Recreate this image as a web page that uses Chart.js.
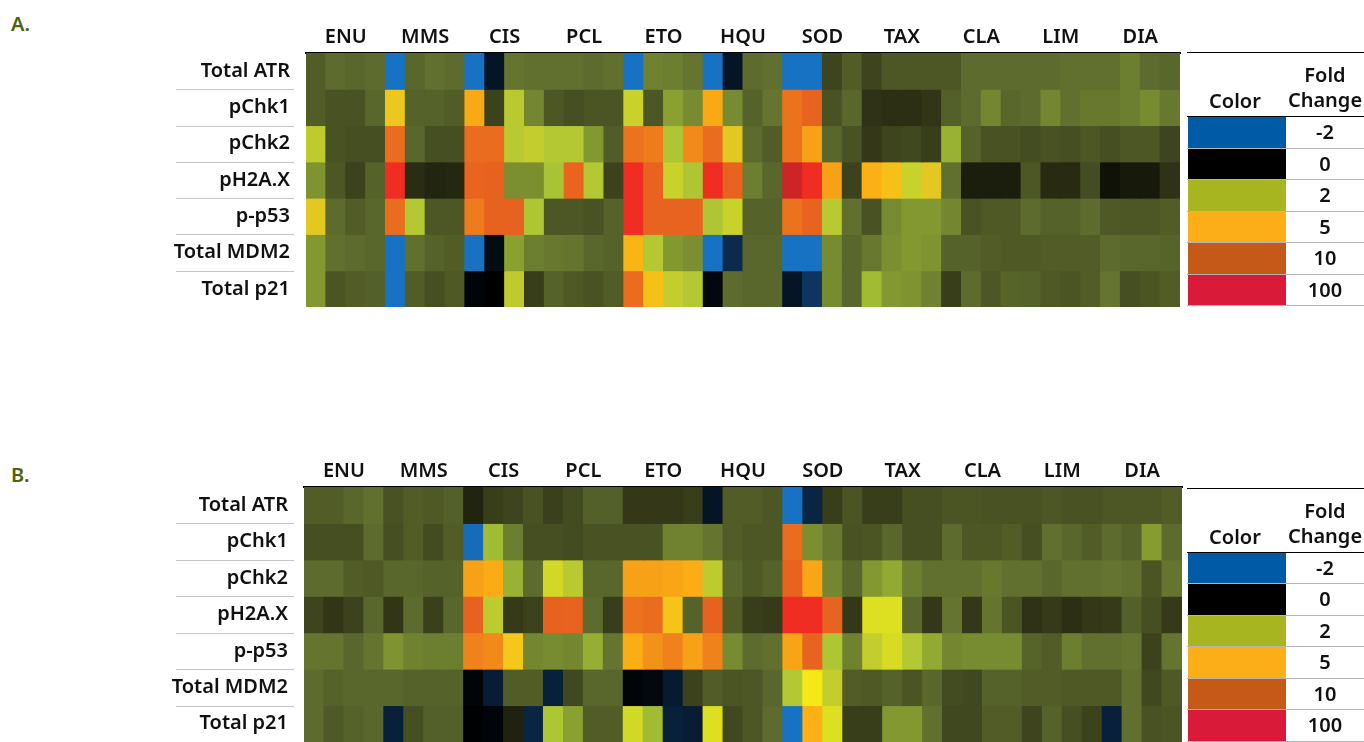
<!DOCTYPE html>
<html>
<head>
<meta charset="utf-8">
<title>Fold change heatmap</title>
<script src="https://cdn.jsdelivr.net/npm/chart.js@4"></script>
<style>
  html, body { margin: 0; padding: 0; background: #fff; overflow: hidden; }
  body { width: 1364px; height: 742px; position: relative; font-family: "Noto Sans", sans-serif; color: #111; }
  canvas { position: absolute; left: 0; }
  .tag { position: absolute; left: 11px; font-size: 20px; font-weight: 600; color: #4f6210; }
  .lg { position: absolute; }
  .lgtext { position: absolute; font-size: 20px; font-weight: 600; line-height: 24px; text-align: center; white-space: nowrap; }
</style>
</head>
<body>
<div class="tag" style="top:10px">A.</div>
<div class="tag" style="top:461px">B.</div>
<canvas id="chartA" width="1186" height="330" style="top:0"></canvas>
<canvas id="chartB" width="1186" height="307" style="top:435px"></canvas>
<script>
const treatments = ["ENU", "MMS", "CIS", "PCL", "ETO", "HQU", "SOD", "TAX", "CLA", "LIM", "DIA"];
const rowNames = ["Total ATR", "pChk1", "pChk2", "pH2A.X", "p-p53", "Total MDM2", "Total p21"];
const foldLabels = ["-2", "0", "2", "5", "10", "100"];
const foldColors = ["#005aa6", "#000000", "#a6b520", "#fbae17", "#c55a18", "#d91a38"];

// panel A, 4 columns per treatment
const aAtr = [.85,1,.95,1, -2,.95,1.05,1, -2,-.4,1.1,1.05, 1.05,1.05,1,1.05, -2,1.25,1.2,1.1, -2,-.4,1,1.05, -2,-2,.62,.85, .62,.8,.8,.8, .8,1,1,1, 1,1,1.05,1.05, 1.05,1.2,1,.95];
const aChk1 = [.85,.75,.75,.95, 3.8,.9,.9,.85, 5.5,.6,2.3,1.3, .8,.72,.78,.78, 2.6,.8,1.6,1.35, 5.5,1.35,.9,1.1, 9,11,.75,.95, .45,.42,.42,.48, .88,1,1.3,.95, 1,1.3,1.05,1.15, 1.15,1.2,1.35,1.15];
const aChk2 = [2.4,.75,.72,.72, 9.5,.95,.72,.72, 9.5,9.5,2.3,2.5, 2.2,2.2,1.5,.85, 9,8.5,2.1,7.5, 9.5,3.6,1,.85, 9,6,.95,.75, .5,.62,.65,.55, 1.8,.9,.75,.75, .7,.75,.72,.8, .72,.8,.8,.62];
const aH2ax = [1.45,.8,.6,.9, 100,.4,.33,.36, 10,14,1.4,1.4, 2,10,2.2,.6, 100,12,2.6,2.1, 100,11,1.2,.95, 150,100,6,.6, 5,4.3,2.6,3.6, 1.05,.27,.27,.27, .8,.38,.38,.7, .15,.22,.22,.45];
const aP53 = [3.6,1,.85,.95, 9.5,2.2,.8,.8, 8.5,14,13,2.1, .8,.8,.75,.9, 100,12,12,12, 2.1,2.6,.9,.9, 9,11,2.3,1.05, .75,1.35,1.5,1.5, 1.3,.75,.82,.82, 1,.9,.9,1, .82,.8,.8,.85];
const aMdm2 = [1.5,1.05,1,.95, -2,1.05,.9,.85, -2,-.2,1.6,1.2, 1.15,1.1,.95,.9, 4.8,2.2,1.5,1.4, -2.1,-.8,.95,.95, -2,-2,1.35,.95, 1.15,1.4,1.5,1.45, .9,.9,.85,.82, .82,.85,.85,.85, 1,.95,.95,.92];
const aP21 = [1.5,.78,.85,.88, -2,.85,.72,.82, -.1,0,2.4,.55, .9,.82,.75,.85, 9.5,4.3,2.5,2.2, -.15,1,.95,.95, -.4,-1,1.35,.95, 1.9,1.5,1.45,1.25, .55,1,.8,.92, .9,.82,.78,.85, 1.1,.72,.78,.85];

// panel B
const bAtr = [.85,.85,.95,1.05, .75,.85,.82,.88, .32,.55,.62,.75, .58,.68,.88,.88, .5,.5,.5,.55, -.4,.85,.85,.8, -2,-.7,.55,.78, .55,.55,.72,.72, .78,.78,.75,.75, .75,.8,.75,.75, .8,.8,.8,.85];
const bChk1 = [.72,.72,.72,1, .72,.85,.68,.85, -1.9,1.9,1.2,.72, .72,.68,.75,.75, .75,.75,1.25,1.25, 1.1,.85,.8,.8, 9.5,1.4,1.15,.75, .78,.95,.72,.72, 1,.8,.8,.85, .72,1.05,.95,.85, 1,.9,1.55,1];
const bChk2 = [1,1,.85,.82, .95,.95,.9,.9, 6,5.3,1.8,1, 2.8,2.3,.95,.95, 6,6,5.7,5.2, 2.4,.95,.82,.9, 11,5.7,1.3,.95, 1.5,1.7,1.2,1.05, 1.05,1.05,1.15,1.05, 1.05,.95,1.05,1.05, 1.1,1.05,.78,1.1];
const bH2ax = [.62,.48,.6,.95, .48,1,.58,.95, 14,2.4,.52,.6, 13,12,1,.55, 9,9.5,4.2,.9, 14,.85,.55,.52, 100,100,11,.5, 3,3,.95,.5, 1.1,.5,1.1,.78, .45,.52,.42,.5, .52,.88,.72,.52];
const bP53 = [1.1,1.1,.95,1.1, 1.45,1.25,1.2,1.2, 8,7.5,4,1.3, 1.35,1.3,1.75,1.1, 5.2,7,8,6, 8,1.35,1,1.05, 5.8,11,2.1,1.25, 2.5,2.9,2.2,1.7, 1.3,1.35,1.35,1.35, .92,.85,1.2,1.05, 1.05,1.1,.6,1.1];
const bMdm2 = [1,.9,.95,.95, .95,.9,.9,.9, -.1,-.55,.85,.85, -.6,.65,.95,.95, -.1,-.15,-.5,.6, .85,.78,.8,.95, 2.2,3.2,2.5,.85, .82,.9,.78,.95, .68,.65,.9,.9, .85,.85,.82,.82, .82,1.05,.65,.82];
const bP21 = [1,.82,.9,.95, -.6,.72,.88,.88, -.02,-.1,.3,-.7, 2.1,1.6,.85,.85, 2.8,1.9,-.6,-.55, 3,.65,.8,1, -2,5,3,.55, .55,1.5,1.5,1.05, .65,.65,.85,.85, .62,.9,.72,.6, -.6,1.05,.75,.78];

const rowsA = [aAtr, aChk1, aChk2, aH2ax, aP53, aMdm2, aP21];
const rowsB = [bAtr, bChk1, bChk2, bH2ax, bP53, bMdm2, bP21];

// color scale: fold value -> rgb
const stops = [
  [-2, [24, 114, 196]], [-1, [14, 53, 96]], [0, [0, 0, 0]],
  [0.5, [52, 56, 24]], [1, [93, 108, 46]], [2, [168, 196, 52]],
  [2.5, [196, 205, 46]], [3, [220, 224, 32]], [3.2, [245, 232, 22]],
  [3.6, [228, 200, 34]], [4, [243, 200, 26]], [5, [251, 176, 21]],
  [10, [232, 100, 31]], [100, [240, 45, 34]], [150, [204, 36, 39]]
];

function colorFor(v) {
  if (v <= stops[0][0]) return "rgb(" + stops[0][1].join(",") + ")";
  for (let i = 1; i < stops.length; i++) {
    if (v <= stops[i][0]) {
      const t = (v - stops[i - 1][0]) / (stops[i][0] - stops[i - 1][0]);
      const c = stops[i][1].map((n, k) => Math.round(stops[i - 1][1][k] + (n - stops[i - 1][1][k]) * t));
      return "rgb(" + c.join(",") + ")";
    }
  }
  return "rgb(" + stops[stops.length - 1][1].join(",") + ")";
}

const axisFont = { family: "'Noto Sans', sans-serif", size: 20, weight: "600" };

// thin rules between the row names
const rowRules = {
  id: "rowRules",
  afterDraw(chart) {
    const c = chart.ctx, y = chart.scales.y;
    c.save();
    c.strokeStyle = "#c3c3c8";
    c.lineWidth = 1;
    for (let i = 1; i < rowNames.length; i++) {
      const py = Math.round(y.getPixelForValue(i)) + 0.5;
      c.beginPath();
      c.moveTo(176, py);
      c.lineTo(294, py);
      c.stroke();
    }
    c.restore();
  }
};

function makePanel(id, rows, leftEdge, rightPad, bottomPad, topEdge) {
  const columns = rows[0].map((_, i) => "c" + i);
  const datasets = rows.map((vals, r) => ({
    label: rowNames[r],
    data: vals.map((v, i) => ({ x: columns[i], y: [r, r + 1], v: v })),
    backgroundColor: (ctx) => colorFor(ctx.raw.v),
    borderWidth: 0,
    borderSkipped: false,
    grouped: false,
    barPercentage: 1,
    categoryPercentage: 1,
    inflateAmount: 0.5
  }));
  return new Chart(document.getElementById(id), {
    type: "bar",
    data: { labels: columns, datasets: datasets },
    plugins: [rowRules],
    options: {
      responsive: false,
      animation: false,
      layout: { padding: { right: rightPad, bottom: bottomPad } },
      plugins: { legend: { display: false }, tooltip: { enabled: false } },
      scales: {
        x: { type: "category", display: false, offset: true },
        y: { type: "linear", min: 0, max: rows.length, reverse: true, display: false },
        xTop: {
          type: "category",
          position: "top",
          labels: treatments,
          offset: true,
          grid: { display: false, drawTicks: false, tickLength: 0 },
          border: { display: true, color: "#000", width: 2 },
          ticks: { font: axisFont, color: "#111", padding: 4, maxRotation: 0, autoSkip: false },
          afterFit(s) { s.height = topEdge; s.paddingLeft = 0; s.paddingRight = 0; }
        },
        yRows: {
          type: "category",
          position: "left",
          labels: rowNames,
          offset: true,
          grid: { display: false, drawTicks: false, tickLength: 0 },
          border: { display: false },
          ticks: { font: axisFont, color: "#111", padding: 16, autoSkip: false },
          afterFit(s) { s.width = leftEdge; s.paddingTop = 0; s.paddingBottom = 0; }
        }
      }
    }
  });
}

makePanel("chartA", rowsA, 306, 6, 23, 53);
makePanel("chartB", rowsB, 304, 4, 0, 52);

// fold change key, same table next to both panels
function box(left, top, width, height, color) {
  const d = document.createElement("div");
  d.className = "lg";
  d.style.cssText = "left:" + left + "px;top:" + top + "px;width:" + width + "px;height:" + height + "px;background:" + color;
  document.body.appendChild(d);
}
function label(text, cx, cy) {
  const d = document.createElement("div");
  d.className = "lgtext";
  d.textContent = text;
  d.style.cssText = "left:" + (cx - 60) + "px;width:120px;top:" + (cy - 12) + "px";
  document.body.appendChild(d);
}
function drawKey(dy) {
  box(1187, 52 + dy, 177, 1, "#000");
  box(1187, 116 + dy, 177, 1, "#000");
  label("Color", 1235, 101 + dy);
  label("Fold", 1325, 75 + dy);
  label("Change", 1325, 100 + dy);
  foldLabels.forEach((t, i) => {
    const top = 117 + dy + i * 31.5;
    box(1188, top, 98, 31, foldColors[i]);
    box(1187, top + 30.5, 177, 1, "#b5b5b5");
    label(t, 1325, top + 15);
  });
}
drawKey(0);
drawKey(435.5);
</script>
</body>
</html>
